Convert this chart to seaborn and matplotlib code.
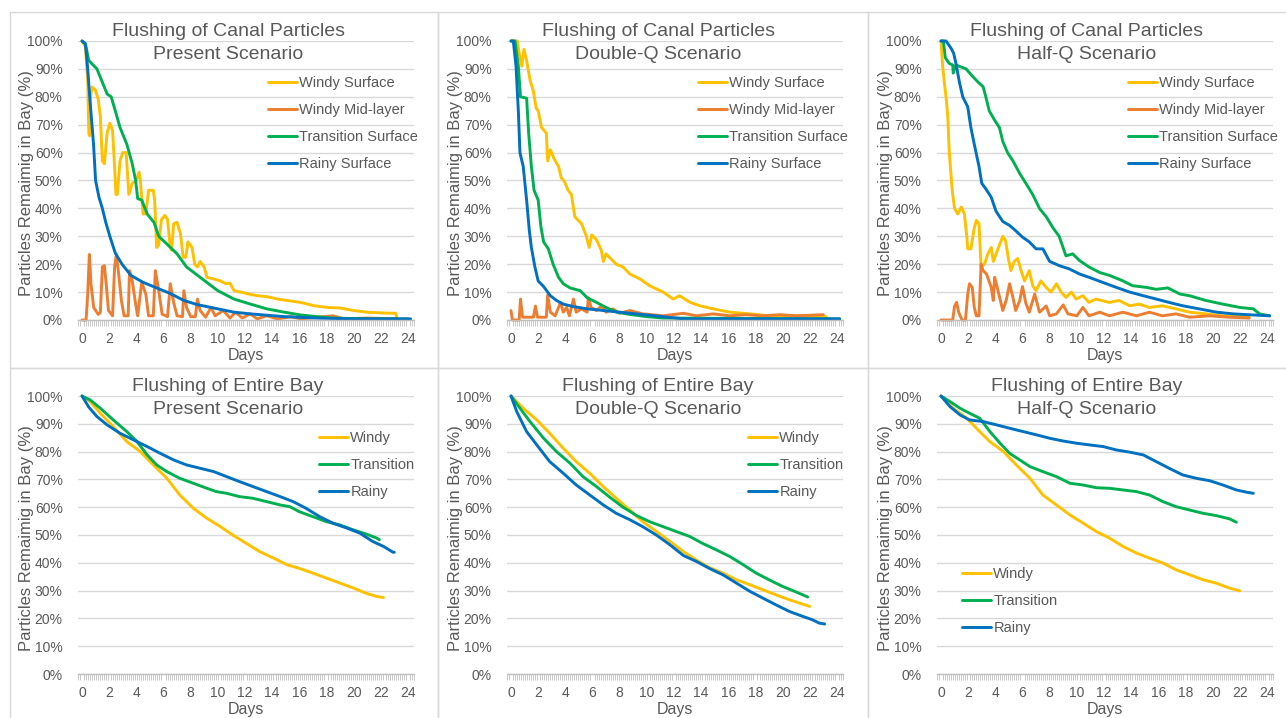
import matplotlib
matplotlib.use("Agg")
import matplotlib.pyplot as plt
import seaborn as sns
from matplotlib.ticker import MultipleLocator
from matplotlib.patches import Rectangle

# ---------------- DATA (days, % remaining) ----------------
# Canal particles - Present
cp_ws_d = [0, 0.25, 0.42, 0.5, 0.56, 0.6, 0.74, 0.98, 1.2, 1.35, 1.5, 1.65, 1.85, 2.05, 2.25, 2.4, 2.5, 2.6, 2.8, 3.0,
           3.25, 3.45, 3.7, 4.0, 4.2, 4.3, 4.5, 4.7, 4.9, 5.25, 5.35, 5.5, 5.65, 5.85, 6.1, 6.3, 6.5, 6.6, 6.75, 7.0,
           7.25, 7.45, 7.65, 7.8, 8.1, 8.3, 8.5, 8.7, 9.0, 9.2, 9.7, 10.2, 10.6, 10.9, 11.2, 11.7, 12.3, 12.9, 13.6, 14.4,
           15.1, 16.1, 17.1, 18.1, 19.0, 20.0, 21.0, 22.2, 23.1, 23.2]
cp_ws_v = [100, 98, 86, 67, 66, 79, 83.5, 82.5, 79, 73, 57, 56, 67, 70.5, 68, 55, 45, 45, 57, 60,
           60, 45, 49, 50, 53, 50, 38, 38, 46.5, 46.5, 43, 26, 27, 36, 37.5, 36, 26, 25, 34.5, 35,
           31, 22.5, 22.5, 28, 26, 20, 19, 21, 19, 15.3, 14.7, 14, 13, 13.2, 10.5, 10, 9.3, 8.7, 8.4, 7.5,
           7, 6.3, 5.1, 4.5, 4.3, 3.4, 2.8, 2.5, 2.4, 0.4]
cp_wm_d = [0, 0.3, 0.42, 0.54, 0.66, 0.86, 1.2, 1.35, 1.5, 1.65, 1.8, 1.95, 2.25, 2.4, 2.53, 2.7, 2.9, 3.1, 3.4, 3.5,
           3.7, 3.95, 4.1, 4.4, 4.7, 4.9, 5.25, 5.4, 5.65, 5.9, 6.3, 6.5, 6.75, 7.0, 7.4, 7.5, 7.7, 8.0, 8.35, 8.5,
           8.7, 9.1, 9.5, 9.8, 10.4, 10.9, 11.3, 11.8, 12.4, 12.9, 13.6, 14.4, 15.4, 16.1, 17.3, 18.5, 19.3, 21.0, 23.2]
cp_wm_v = [0, 0, 9, 23.5, 13, 4.5, 2, 2.7, 19, 19.5, 12, 3.4, 1.5, 19, 23.5, 16.5, 7, 1.5, 1.5, 17.7,
           14, 5.7, 1.5, 13.5, 9.3, 1.5, 1.5, 17.7, 10.5, 2.1, 1.2, 13, 6.3, 1.5, 1.2, 10.5, 4.5, 1.2, 1.2, 7.5,
           3.4, 1, 4.5, 1.5, 3.4, 0.7, 2.8, 0.7, 2.2, 0.4, 1.5, 0.4, 1.2, 0.4, 1, 1.5, 0.4, 0.7, 0.4]
cp_ts_d = [0, 0.25, 0.5, 1.1, 1.6, 1.85, 2.15, 2.45, 2.8, 3.3, 3.7, 3.95, 4.1, 4.4, 4.8, 5.3, 5.65, 6.3, 7.0, 7.7,
           8.7, 10.0, 11.2, 12.4, 13.6, 14.9, 16.1, 17.3, 18.5, 21.0, 24.0]
cp_ts_v = [100, 99, 93, 90, 84, 81, 80, 75, 69, 63, 56, 50, 43.5, 43, 38, 35, 30, 27, 23.7, 19,
           15.3, 10.5, 7.5, 5.7, 4, 2.8, 1.8, 1.2, 0.7, 0.4, 0.4]
cp_rs_d = [0, 0.25, 0.42, 0.6, 0.85, 1.0, 1.25, 1.5, 1.75, 2.05, 2.45, 2.95, 3.6, 4.5, 5.5, 6.5, 7.5, 8.5, 10.0, 11.2,
           12.4, 14.9, 17.3, 19.8, 24.2]
cp_rs_v = [100, 99, 90, 78, 63, 50, 44, 40, 35, 30, 24, 20, 16, 13.5, 11.5, 9.5, 7, 5.5, 4, 2.8,
           2.2, 1.2, 0.7, 0.4, 0.4]

# Canal particles - Double-Q
cd_ws_d = [0, 0.47, 0.6, 0.8, 0.95, 1.15, 1.4, 1.65, 1.85, 2.0, 2.25, 2.6, 2.7, 2.9, 3.15, 3.5, 3.7, 3.95, 4.2, 4.45,
           4.7, 5.2, 5.55, 5.75, 5.95, 6.3, 6.65, 6.8, 7.0, 7.75, 8.25, 8.75, 9.5, 10.2, 11.2, 11.95, 12.4, 13.2, 13.9,
           14.9, 16.1, 17.6, 19.0, 21.0, 23.2, 23.3]
cd_ws_v = [100, 100, 95.6, 91, 97, 93, 86, 82, 76, 75, 69, 67, 57, 61, 58, 55, 51, 49.5, 46.5, 45,
           37, 34.5, 30, 26, 30.5, 28.7, 25, 21, 23.7, 20, 19, 16.5, 14.7, 12.3, 10, 7.5, 8.7, 6.3, 5.1,
           4, 2.8, 2.2, 1.5, 1.5, 1.2, 0.4]
cd_wm_d = [0, 0.1, 0.6, 0.7, 0.85, 1.65, 1.8, 1.95, 2.6, 2.7, 2.9, 3.25, 3.65, 3.85, 4.1, 4.3, 4.6, 4.8, 5.2, 5.6,
           5.7, 5.9, 6.3, 6.65, 7.0, 7.5, 8.0, 8.75, 9.7, 11.2, 12.7, 13.65, 14.9, 16.1, 17.3, 18.5, 19.8, 21.0, 23.0]
cd_wm_v = [3.4, 0, 0, 7.5, 1, 1, 5, 1, 1, 9, 2.8, 1.5, 6.3, 2.8, 4.5, 1.5, 7.5, 2.8, 4, 2.8,
           8, 4.5, 3.4, 5, 2.8, 4, 2.4, 3.4, 2.2, 1.5, 2.4, 1.5, 2.2, 1.5, 1.9, 1.5, 1.9, 1.5, 1.9]
cd_ts_d = [0, 0.3, 0.54, 0.7, 1.15, 1.3, 1.5, 1.7, 2.0, 2.2, 2.4, 2.75, 3.1, 3.5, 3.85, 4.35, 5.1, 5.6, 6.3, 7.0,
           7.8, 8.75, 10.0, 11.2, 24.2]
cd_ts_v = [100, 100, 91, 80, 79.5, 67, 55, 46.5, 43, 33.5, 28, 25.5, 20, 15.3, 13, 11.5, 10.5, 8, 6.3, 4.5,
           2.8, 2, 1.2, 0.7, 0.4]
cd_rs_d = [0, 0.17, 0.37, 0.54, 0.66, 0.9, 1.15, 1.35, 1.5, 1.76, 2.0, 2.4, 2.9, 3.35, 3.85, 4.6, 5.6, 6.8, 8.0, 9.2,
           11.2, 12.7, 24.2]
cd_rs_v = [100, 100, 91, 75, 60, 55, 43, 32, 26, 19, 14, 12, 8.7, 7, 5.7, 4.8, 4, 3.4, 2.8, 2.2,
           1.2, 0.4, 0.4]

# Canal particles - Half-Q
ch_ws_d = [0, 0.12, 0.25, 0.37, 0.5, 0.6, 0.75, 0.86, 1.0, 1.23, 1.5, 1.72, 1.9, 1.97, 2.2, 2.45, 2.6, 2.8, 2.95, 3.2,
           3.45, 3.7, 3.85, 4.2, 4.55, 4.75, 5.0, 5.15, 5.4, 5.65, 5.9, 6.15, 6.5, 6.75, 7.0, 7.35, 7.75, 8.1, 8.5, 8.85,
           9.2, 9.6, 9.95, 10.45, 10.9, 11.4, 12.4, 13.1, 13.9, 14.6, 15.35, 16.3, 17.3, 18.3, 19.5, 20.75, 22.7]
ch_ws_v = [100, 91, 85, 80, 73, 61, 51, 45, 40, 38, 40.5, 38, 30, 25.5, 25.5, 33, 35.7, 34.5, 19, 20,
           23.7, 26, 21, 25.5, 30, 28.5, 21, 17.7, 21, 22, 17.7, 14, 17.7, 12.3, 10.5, 14, 11.7, 10, 13, 10,
           8.1, 10, 7.5, 8.7, 6.3, 7.5, 6.3, 7, 5.1, 5.7, 4.5, 5.1, 4, 2.8, 2.2, 1.5, 1.2]
ch_wm_d = [0, 0.86, 1.0, 1.15, 1.3, 1.55, 1.8, 1.97, 2.1, 2.3, 2.45, 2.6, 2.8, 2.95, 3.1, 3.35, 3.7, 3.85, 3.95, 4.2,
           4.55, 4.8, 5.05, 5.3, 5.5, 5.8, 6.0, 6.25, 6.5, 6.9, 7.25, 7.75, 8.0, 8.5, 9.0, 9.35, 10.0, 10.45, 10.9, 11.7,
           12.4, 13.4, 14.4, 15.35, 16.3, 17.3, 18.3, 19.8, 21.25, 22.7]
ch_wm_v = [0, 0, 5, 6.3, 2.8, 0, 0, 9.3, 13, 11.7, 4.5, 1.5, 1.5, 20, 17.7, 16.5, 11.7, 7, 15.3, 10.5,
           3.4, 7, 13, 8, 3.4, 7, 12, 6, 2.8, 9.3, 2.8, 5, 1.5, 2.2, 5.4, 2.2, 1.5, 4.5, 1.5, 2.8,
           1.5, 2.8, 1.5, 2.8, 1.5, 2.2, 1, 1.5, 1, 0.7]
ch_ts_d = [0, 0.17, 0.32, 0.6, 0.86, 0.9, 1.1, 1.85, 2.2, 2.7, 3.1, 3.3, 3.55, 3.95, 4.3, 4.55, 4.9, 5.3, 5.8, 6.25,
           6.75, 7.25, 7.75, 8.25, 8.7, 9.2, 9.7, 10.2, 10.9, 11.7, 12.4, 13.4, 14.1, 15.1, 15.85, 16.7, 17.6, 18.3,
           19.5, 20.75, 22.0, 23.0, 23.45, 24.2]
ch_ts_v = [100, 100, 94, 92, 91.4, 88.5, 91.4, 90, 88, 85.4, 83.6, 80, 75, 71.6, 69, 64, 60, 57, 52.5, 49,
           45, 40, 37, 33, 30, 23, 23.7, 21.3, 19, 17, 16, 14, 12.3, 11.7, 11, 11.5, 9.3, 8.7,
           7, 5.7, 4.5, 4, 2.2, 1.5]
ch_rs_d = [0, 0.37, 0.74, 0.93, 1.1, 1.35, 1.6, 1.97, 2.2, 2.45, 2.8, 3.0, 3.3, 3.7, 4.05, 4.55, 5.05, 5.5, 6.0, 6.5,
           7.0, 7.5, 8.0, 8.7, 9.45, 10.2, 10.9, 11.9, 12.9, 13.9, 14.9, 15.85, 16.8, 17.8, 19.0, 20.3, 21.5, 23.0, 24.2]
ch_rs_v = [100, 100, 97.4, 95.6, 92, 85.4, 80, 76.4, 69, 63, 55, 49, 47, 44, 39, 35.3, 33.9, 32, 29.7, 28,
           25.5, 25.5, 21, 19.5, 18.3, 16.5, 15.3, 13.5, 11.7, 10, 8.7, 7.5, 6.3, 5.1, 4, 2.8, 2.2, 1.8, 1.5]

# Entire bay - Present
bp_w_d = [0, 0.6, 1.35, 2.3, 3.3, 4.3, 5.3, 6.25, 7.2, 8.2, 9.2, 10.2, 11.1, 12.1, 13.1, 14.1, 15.1, 16.0, 17.0, 18.0,
          19.0, 20.0, 20.95, 21.7, 22.2]
bp_w_v = [100, 98, 93.8, 89, 83.6, 80, 75, 70.4, 64.4, 59.6, 56, 53, 50, 47, 44, 41.7, 39.3, 38, 36.3, 34.5,
          32.7, 30.9, 29, 27.9, 27.5]
bp_t_d = [0, 0.6, 1.35, 2.3, 3.3, 4.05, 4.8, 5.5, 6.25, 7.2, 8.2, 9.2, 9.9, 10.65, 11.6, 12.6, 13.6, 14.6, 15.3, 16.0,
          17.0, 18.0, 19.0, 20.0, 20.95, 21.7, 21.9]
bp_t_v = [100, 98.6, 95.6, 91.4, 87.2, 83.6, 78.8, 75.2, 72.8, 70.4, 68.6, 66.8, 65.6, 65, 63.8, 63.2, 62, 60.8, 60.2,
          58.4, 56.6, 54.8, 53.6, 51.8, 50.3, 48.9, 48.3]
bp_r_d = [0, 0.5, 1.1, 1.85, 2.8, 3.8, 4.8, 5.75, 6.75, 7.7, 8.7, 9.7, 10.65, 11.6, 12.6, 13.6, 14.6, 15.55, 16.5, 17.5,
          18.5, 19.5, 20.45, 21.4, 22.2, 22.9, 23.0]
bp_r_v = [100, 96, 92.6, 89.6, 86.6, 84.2, 81.8, 79.4, 77, 75.2, 74, 72.8, 71, 69.2, 67.4, 65.6, 63.8, 62, 59.6, 56.6,
          54.2, 52.5, 50.7, 47.7, 45.9, 43.8, 43.8]

# Entire bay - Double-Q
bd_w_d = [0, 0.9, 1.9, 2.85, 3.85, 4.8, 5.8, 6.8, 7.75, 8.75, 9.7, 10.7, 11.7, 12.7, 13.65, 14.6, 15.6, 16.6, 17.6,
          18.55, 19.5, 20.5, 21.5, 22.0]
bd_w_v = [100, 95.6, 91.4, 86.6, 81.2, 76.4, 72.2, 67.4, 63.2, 59, 54.8, 51.3, 47.7, 44, 41, 38.3, 36.3, 33.9, 32.1,
          30.3, 28.5, 26.7, 25.1, 24.3]
bd_t_d = [0, 0.66, 1.4, 2.4, 3.35, 4.35, 5.3, 6.3, 7.3, 8.25, 9.25, 10.2, 11.2, 12.2, 13.15, 14.1, 15.1, 16.1, 17.1,
          18.05, 19.0, 20.0, 21.0, 21.85]
bd_t_v = [100, 95.6, 90.8, 84.8, 80, 75.8, 71, 67.4, 63.5, 60, 57, 54.8, 53, 51.2, 49.5, 47, 44.7, 42.3, 39.3,
          36.3, 33.9, 31.5, 29.5, 27.7]
bd_r_d = [0, 0.42, 1.15, 1.9, 2.85, 3.85, 4.8, 5.8, 6.8, 7.75, 8.75, 9.7, 10.7, 11.7, 12.7, 13.65, 14.6, 15.6, 16.6,
          17.6, 18.55, 19.5, 20.5, 21.5, 22.2, 22.7, 23.1]
bd_r_v = [100, 94.4, 87.2, 82.4, 76.4, 72.2, 68, 64.4, 60.8, 57.8, 55.5, 53, 50, 46.5, 42.6, 40.5, 38, 35.7, 32.7,
          29.7, 27.3, 24.9, 22.5, 20.7, 19.5, 18.3, 18]

# Entire bay - Half-Q
bh_w_d = [0, 0.9, 1.9, 2.85, 3.6, 4.6, 5.55, 6.55, 7.5, 8.5, 9.5, 10.45, 11.45, 12.4, 13.4, 14.4, 15.35, 16.35, 17.3,
          18.3, 19.3, 20.25, 21.25, 22.0]
bh_w_v = [100, 95.6, 92, 87.2, 83.6, 80, 75.2, 70.4, 64.4, 60.8, 57.2, 54.3, 51.2, 48.9, 45.9, 43.5, 41.7, 39.9, 37.5,
          35.7, 33.9, 32.7, 30.9, 29.9]
bh_t_d = [0, 0.66, 1.4, 2.1, 2.85, 3.6, 4.35, 5.05, 5.8, 6.55, 7.5, 8.5, 9.5, 10.45, 11.45, 12.4, 13.4, 14.4, 15.35,
          16.35, 17.3, 18.3, 19.3, 20.25, 21.25, 21.75]
bh_t_v = [100, 98, 95.6, 93.8, 92, 87.2, 83, 79.4, 77, 74.6, 72.8, 71, 68.6, 68, 67, 66.8, 66.2, 65.6, 64.4,
          62, 60.2, 59, 57.8, 57, 55.8, 54.6]
bh_r_d = [0, 0.66, 1.4, 2.1, 3.1, 4.1, 5.05, 6.05, 7.05, 8.0, 9.0, 10.0, 10.95, 11.95, 12.9, 13.9, 14.9, 15.85, 16.8,
          17.8, 18.8, 19.8, 20.75, 21.75, 22.5, 23.0]
bh_r_v = [100, 96.2, 93.2, 91.4, 90.8, 89.6, 88.4, 87.2, 86, 84.8, 83.8, 83, 82.4, 81.8, 80.6, 79.8, 78.8, 76.4, 74,
          71.6, 70.4, 69.5, 68, 66.2, 65.4, 65]

titles_top = ["Flushing of Canal Particles", "Flushing of Entire Bay"]
scenarios = ["Present Scenario", "Double-Q Scenario", "Half-Q Scenario"]
canal_labels = ["Windy Surface", "Windy Mid-layer", "Transition Surface", "Rainy Surface"]
bay_labels = ["Windy", "Transition", "Rainy"]
y_ticks = list(range(0, 101, 10))
y_tick_labels = [f"{v}%" for v in y_ticks]
x_ticks = list(range(0, 25, 2))
ylabel_text = "Particles Remaimig in Bay (%)"
xlabel_text = "Days"

# ---------------- STYLE ----------------
YELLOW, ORANGE, GREEN, BLUE = "#FFC000", "#ED7D31", "#00B050", "#0070C0"
TXT = "#595959"
GRID = "#D9D9D9"

sns.set_theme(style="white")
plt.rcParams['font.family'] = ['Liberation Sans', 'DejaVu Sans']

W, H = 1286, 718
fig = plt.figure(figsize=(W / 100, H / 100), dpi=100)
fig.patch.set_facecolor("white")


def fx(px):
    return px / W


def fy(py):
    return 1 - py / H


PPD = 13.58
X0 = [82, 511, 941]
ROWS = [(41, 320), (396, 674)]
XMIN, XMAX = -0.3, 24.45
TITLE_CX = [228, 658, 1087]
TITLE_BASE = [(36, 59), (391, 414)]

canal_series = [
    [(cp_ws_d, cp_ws_v, YELLOW), (cp_wm_d, cp_wm_v, ORANGE), (cp_ts_d, cp_ts_v, GREEN), (cp_rs_d, cp_rs_v, BLUE)],
    [(cd_ws_d, cd_ws_v, YELLOW), (cd_wm_d, cd_wm_v, ORANGE), (cd_ts_d, cd_ts_v, GREEN), (cd_rs_d, cd_rs_v, BLUE)],
    [(ch_ws_d, ch_ws_v, YELLOW), (ch_wm_d, ch_wm_v, ORANGE), (ch_ts_d, ch_ts_v, GREEN), (ch_rs_d, ch_rs_v, BLUE)],
]
bay_series = [
    [(bp_w_d, bp_w_v, YELLOW), (bp_t_d, bp_t_v, GREEN), (bp_r_d, bp_r_v, BLUE)],
    [(bd_w_d, bd_w_v, YELLOW), (bd_t_d, bd_t_v, GREEN), (bd_r_d, bd_r_v, BLUE)],
    [(bh_w_d, bh_w_v, YELLOW), (bh_t_d, bh_t_v, GREEN), (bh_r_d, bh_r_v, BLUE)],
]
legend_pos = [
    [(268, 76), (698, 76), (1128, 76)],
    [(319, 431), (748, 431), (962, 567)],
]

# panel borders
for (x0, x1) in [(10, 438), (438, 868), (868, 1290)]:
    for (y0, y1) in [(12, 368), (368, 722)]:
        fig.add_artist(Rectangle((fx(x0), fy(y1)), (x1 - x0) / W, (y1 - y0) / H,
                                 transform=fig.transFigure, fill=False,
                                 edgecolor=GRID, linewidth=1.0))

for r in range(2):
    series_all = canal_series if r == 0 else bay_series
    labels = canal_labels if r == 0 else bay_labels
    top, bot = ROWS[r]
    for c in range(3):
        left = X0[c] + XMIN * PPD
        right = X0[c] + XMAX * PPD
        ax = fig.add_axes([fx(left), fy(bot), (right - left) / W, (bot - top) / H])
        ax.set_facecolor("none")
        for (d, v, col), lab in zip(series_all[c], labels):
            sns.lineplot(x=d, y=v, ax=ax, color=col, linewidth=2.1, label=lab,
                         sort=False, estimator=None, clip_on=False)
        ax.set_xlim(XMIN, XMAX)
        ax.set_ylim(0, 100)
        ax.set_yticks(y_ticks)
        ax.set_yticklabels(y_tick_labels)
        ax.set_xticks(x_ticks)
        ax.set_xticklabels([str(t) for t in x_ticks])
        ax.xaxis.set_minor_locator(MultipleLocator(0.15))
        ax.tick_params(axis='x', which='major', length=0, pad=8.5, labelsize=10, labelcolor=TXT)
        ax.tick_params(axis='x', which='minor', length=4, width=0.6, color="#BFBFBF",
                       direction='out', bottom=True)
        ax.tick_params(axis='y', which='both', length=0, pad=11, labelsize=10, labelcolor=TXT)
        ax.grid(axis='y', color=GRID, linewidth=1.0)
        ax.grid(axis='x', visible=False)
        ax.set_axisbelow(True)
        for s in ["top", "right", "left"]:
            ax.spines[s].set_visible(False)
        ax.spines["bottom"].set_color("#BFBFBF")
        ax.spines["bottom"].set_linewidth(1.0)
        ax.set_xlabel(xlabel_text, fontsize=11.5, color=TXT)
        ax.xaxis.set_label_coords(0.5, -0.1)
        ax.set_ylabel(ylabel_text, fontsize=12, color=TXT)
        ax.yaxis.set_label_coords(-0.132, 0.49)
        lx, ly = legend_pos[r][c]
        ax.legend(loc='upper left', bbox_to_anchor=(fx(lx), fy(ly)), bbox_transform=fig.transFigure,
                  frameon=False, fontsize=10.5, handlelength=2.0, handletextpad=0.15,
                  labelspacing=0.9, borderpad=0, borderaxespad=0, labelcolor=TXT)
        fig.text(fx(TITLE_CX[c]), fy(TITLE_BASE[r][0]), titles_top[r], ha='center', va='baseline',
                 fontsize=14, color=TXT)
        fig.text(fx(TITLE_CX[c]), fy(TITLE_BASE[r][1]), scenarios[c], ha='center', va='baseline',
                 fontsize=14, color=TXT)

fig.savefig("out.png", dpi=100, facecolor="white")
